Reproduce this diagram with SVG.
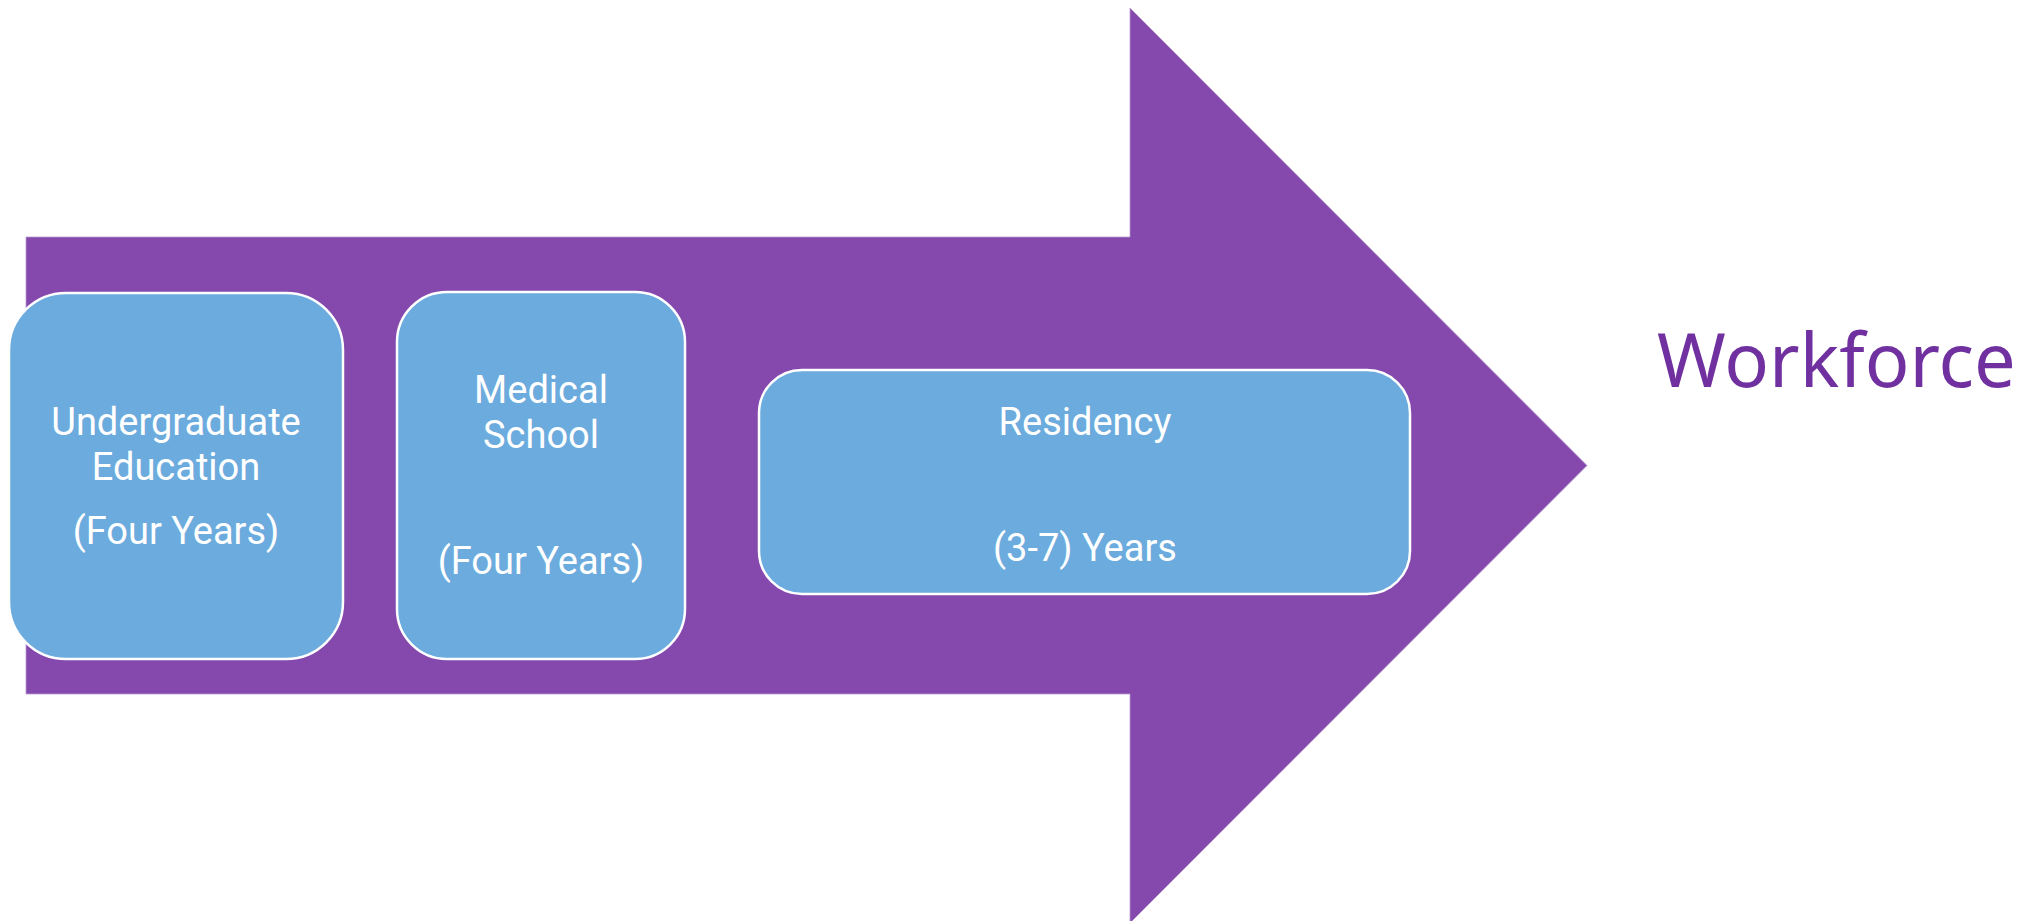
<svg xmlns="http://www.w3.org/2000/svg" width="2035" height="921" viewBox="0 0 2035 921">
  <style>
    .box { fill: #6CABDD; stroke: #FFFFFF; stroke-width: 2.5; }
    .lbl { font-family: Roboto, "Liberation Sans", sans-serif; font-size: 38px; fill: #FFFFFF; text-anchor: middle; }
    .big { font-family: "Noto Sans", "Open Sans", "Liberation Sans", sans-serif; font-size: 74px; fill: #7030A0; }
  </style>
  <rect x="0" y="0" width="2035" height="921" fill="#FFFFFF"/>
  <g id="arrow">
    <polygon points="26,237 1130,237 1130,8 1587,465.5 1130,923 1130,694 26,694" fill="#8549AD" stroke="#B79AD0" stroke-width="0.8"/>
  </g>
  <g id="connectors"></g>
  <g id="undergraduate">
    <rect class="box" x="9" y="293" width="334" height="366" rx="57" ry="57"/>
    <text class="lbl" x="176" y="435">Undergraduate</text>
    <text class="lbl" x="176" y="480">Education</text>
    <text class="lbl" x="176" y="544">(Four Years)</text>
  </g>
  <g id="medical-school">
    <rect class="box" x="397" y="292" width="288" height="367" rx="50" ry="50"/>
    <text class="lbl" x="541" y="403">Medical</text>
    <text class="lbl" x="541" y="448">School</text>
    <text class="lbl" x="541" y="574">(Four Years)</text>
  </g>
  <g id="residency">
    <rect class="box" x="759" y="370" width="651" height="224" rx="43" ry="43"/>
    <text class="lbl" x="1085" y="435">Residency</text>
    <text class="lbl" x="1085" y="561">(3-7) Years</text>
  </g>
  <g id="workforce">
    <text class="big" x="1657" y="387">Workforce</text>
  </g>
</svg>
